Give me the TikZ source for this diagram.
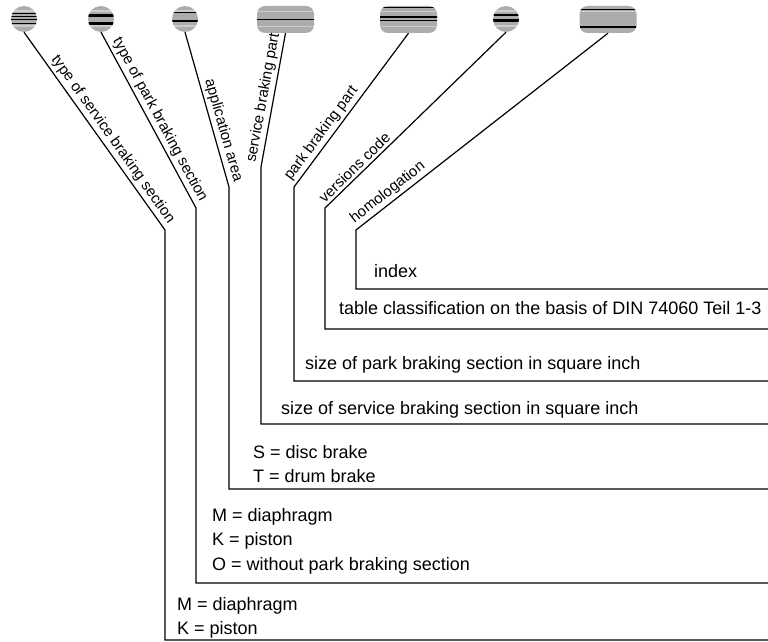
\documentclass[tikz,border=0pt]{standalone}
\usepackage{fontspec}
\setmainfont{Liberation Sans}
\usepackage{tikz}

\begin{document}
\begin{tikzpicture}[x=1pt,y=-1pt,
  wire/.style={line width=1.2pt},
  lbl/.style={font=\fontsize{15}{18}\selectfont, inner sep=2.5pt, sloped, pos=1},
  txt/.style={font=\fontsize{18}{24.5}\selectfont, align=left, inner sep=0pt, anchor=north west},
  dot/.style={circle, minimum size=26pt, inner sep=0pt, fill=gray!65},
  pill/.style={rounded corners=8pt, minimum width=57pt, minimum height=27pt, inner sep=0pt, fill=gray!65},
  stripes/.style={path picture={
    \foreach \s in {8,-7} \draw[gray!40,line width=1.5pt] ([yshift=\s pt]path picture bounding box.west) -- ++(70pt,0);
    \foreach \s in {#1} \draw[black,line width=1.3pt] ([yshift=\s pt]path picture bounding box.west) -- ++(70pt,0);}}]
  \useasboundingbox (0,0) rectangle (768,642);

  \node[dot, stripes={5.5,2.5,-0.5,-4.5}] (p1) at (24,19) {};
  \node[dot, stripes={4,3,-4,-5}] (p2) at (101,19) {};
  \node[dot, stripes={6.5,-2}] (p3) at (185,19) {};
  \node[pill, stripes={0}] (p4) at (285.5,19.5) {};
  \node[pill, stripes={12,2.5,-1}] (p5) at (408.5,19.5) {};
  \node[dot, stripes={4,-1,-2.5}] (p6) at (506,19) {};
  \node[pill, stripes={10,-7.5}] (p7) at (608,19.5) {};

  \coordinate (k1) at (165,230);
  \coordinate (k2) at (196,208);
  \coordinate (k3) at (229,187);
  \coordinate (k4) at (261,167);
  \coordinate (k5) at (294,187);
  \coordinate (k6) at (325,208);
  \coordinate (k7) at (356,230);

  \coordinate (e1) at (768,640);
  \coordinate (e2) at (768,583);
  \coordinate (e3) at (768,489);
  \coordinate (e4) at (768,424);
  \coordinate (e5) at (768,381);
  \coordinate (e6) at (768,329);
  \coordinate (e7) at (768,289);

  \draw[wire] (p1.south) -- node[lbl, anchor=south east] {type of service braking section} (k1) |- (e1);
  \draw[wire] (p2.south) -- node[lbl, anchor=south east] {type of park braking section} (k2) |- (e2);
  \draw[wire] (p3.south) -- node[lbl, anchor=south east] {application area} (k3) |- (e3);
  \draw[wire] (p4.south) -- node[lbl, anchor=south west] {service braking part} (k4) |- (e4);
  \draw[wire] (p5.south) -- node[lbl, anchor=south west] {park braking part} (k5) |- (e5);
  \draw[wire] (p6.south) -- node[lbl, anchor=south west] {versions code} (k6) |- (e6);
  \draw[wire] (p7.south) -- node[lbl, anchor=south west] {homologation} (k7) |- (e7);

  \node[txt] (t7) at (374,264) {index};
  \node[txt] (t6) at (339,301) {table classification on the basis of DIN 74060 Teil 1-3};
  \node[txt] (t5) at (305,356) {size of park braking section in square inch};
  \node[txt] (t4) at (281,401) {size of service braking section in square inch};
  \node[txt] (t3) at (253,445) {S = disc brake\\T = drum brake};
  \node[txt] (t2) at (212,508) {M = diaphragm\\K = piston\\O = without park braking section};
  \node[txt] (t1) at (177,597) {M = diaphragm\\K = piston};
\end{tikzpicture}
\end{document}
